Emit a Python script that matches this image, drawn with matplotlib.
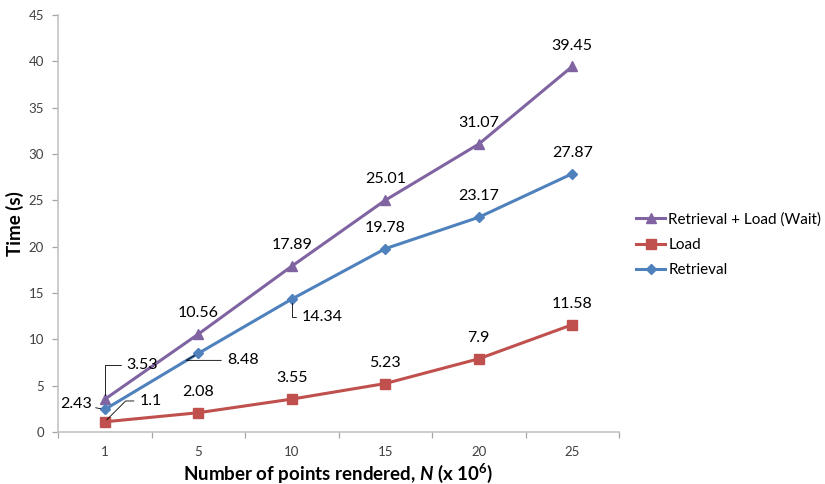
import matplotlib
matplotlib.use("Agg")
import matplotlib.pyplot as plt

categories = ["1", "5", "10", "15", "20", "25"]
wait_vals = [3.53, 10.56, 17.89, 25.01, 31.07, 39.45]
load_vals = [1.1, 2.08, 3.55, 5.23, 7.9, 11.58]
retr_vals = [2.43, 8.48, 14.34, 19.78, 23.17, 27.87]
y_ticks = [0, 5, 10, 15, 20, 25, 30, 35, 40, 45]

plt.rcParams['font.family'] = ['Lato', 'DejaVu Sans']
plt.rcParams['mathtext.fontset'] = 'custom'
plt.rcParams['mathtext.rm'] = 'Lato:bold'
plt.rcParams['mathtext.it'] = 'Lato:bold:italic'
plt.rcParams['mathtext.bf'] = 'Lato:bold'

fig = plt.figure(figsize=(8.25, 4.84), dpi=100)
ax = fig.add_axes([58/825, 1-432/484, (619-58)/825, (432-15)/484])

x = list(range(len(categories)))
c_wait = '#8064A2'
c_load = '#C0504D'
c_retr = '#4F81BD'

lw = 2.2
ax.plot(x, wait_vals, color=c_wait, lw=lw, marker='^', ms=7.5, label='Retrieval + Load (Wait)', zorder=3)
ax.plot(x, load_vals, color=c_load, lw=lw, marker='s', ms=7.5, label='Load', zorder=3)
ax.plot(x, retr_vals, color=c_retr, lw=lw, marker='D', ms=5.5, label='Retrieval', zorder=3)

ax.set_xlim(-0.5, len(categories) - 0.5)
ax.set_ylim(0, 45)
ax.set_yticks(y_ticks)
ax.set_xticks(x)
ax.set_xticklabels(categories)
ax.set_xticks([i - 0.5 for i in range(len(categories) + 1)], minor=True)
ax.tick_params(axis='x', which='major', length=0, pad=10, labelsize=9.5, colors='#404040')
ax.tick_params(axis='x', which='minor', length=4, color='#A6A6A6', width=0.9)
ax.tick_params(axis='y', length=4, color='#A6A6A6', width=0.9, pad=6, labelsize=9.5, labelcolor='#404040')

for s in ['top', 'right']:
    ax.spines[s].set_visible(False)
for s in ['left', 'bottom']:
    ax.spines[s].set_color('#BFBFBF')
    ax.spines[s].set_linewidth(1.1)

ax.set_ylabel('Time (s)', fontsize=13.5, fontweight='bold', labelpad=3)
ax.set_xlabel('Number of points rendered, $N$ (x 10$^{6}$)', fontsize=13.5, fontweight='bold', labelpad=3)

lab_fs = 11.5

def above(xi, v):
    ax.annotate(f"{v:g}", (xi, v), xytext=(0, 15), textcoords='offset points',
                ha='center', va='center', fontsize=lab_fs, color='black')

# Wait labels
for i, v in enumerate(wait_vals):
    if i == 0:
        ax.annotate(f"{v:g}", (i, v), xytext=(27, 25), textcoords='offset points',
                    ha='center', va='center', fontsize=lab_fs,
                    arrowprops=dict(arrowstyle='-', color='black', lw=0.6,
                                    connectionstyle='angle,angleA=0,angleB=90,rad=0',
                                    shrinkA=2, shrinkB=3))
    else:
        above(i, v)

# Load labels
for i, v in enumerate(load_vals):
    if i == 0:
        ax.annotate(f"{v:g}", (i, v), xytext=(33, 15), textcoords='offset points',
                    ha='center', va='center', fontsize=lab_fs,
                    arrowprops=dict(arrowstyle='-', color='black', lw=0.6,
                                    connectionstyle='angle,angleA=0,angleB=45,rad=0',
                                    shrinkA=2, shrinkB=2))
    else:
        above(i, v)

# Retrieval labels
for i, v in enumerate(retr_vals):
    if i == 0:
        ax.annotate(f"{v:g}", (i, v), xytext=(-21, 4), textcoords='offset points',
                    ha='center', va='center', fontsize=lab_fs,
                    arrowprops=dict(arrowstyle='-', color='black', lw=0.6,
                                    shrinkA=1, shrinkB=3))
    elif i == 1:
        ax.annotate(f"{v:g}", (i, v), xytext=(32, -5), textcoords='offset points',
                    ha='center', va='center', fontsize=lab_fs,
                    arrowprops=dict(arrowstyle='-', color='black', lw=0.6,
                                    connectionstyle='angle,angleA=0,angleB=30,rad=0',
                                    shrinkA=2, shrinkB=3))
    elif i == 2:
        ax.annotate(f"{v:g}", (i, v), xytext=(22, -13), textcoords='offset points',
                    ha='center', va='center', fontsize=lab_fs,
                    arrowprops=dict(arrowstyle='-', color='black', lw=0.6,
                                    connectionstyle='angle,angleA=0,angleB=90,rad=0',
                                    shrinkA=2, shrinkB=3))
    else:
        above(i, v)

fig.legend(loc='upper left', bbox_to_anchor=(630/825, 1-206/484), frameon=False,
           fontsize=11, handlelength=1.9, handletextpad=0.2, labelspacing=0.75,
           borderaxespad=0)

fig.savefig('out.png', dpi=100)
